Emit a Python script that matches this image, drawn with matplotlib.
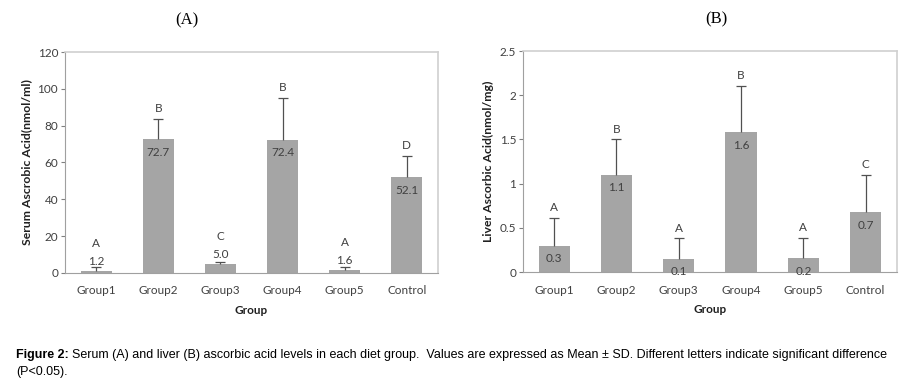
import numpy as np
import matplotlib.pyplot as plt
from matplotlib import font_manager

groups = ["Group1", "Group2", "Group3", "Group4", "Group5", "Control"]

# Serum (A)
serum_mean = [1.2, 72.7, 5.0, 72.4, 1.6, 52.1]
serum_sd = [1.9, 10.9, 1.0, 22.7, 1.8, 11.6]
serum_labels = ["1.2", "72.7", "5.0", "72.4", "1.6", "52.1"]
serum_letters = ["A", "B", "C", "B", "A", "D"]

# Liver (B)
liver_mean = [0.30, 1.10, 0.15, 1.58, 0.16, 0.68]
liver_sd = [0.31, 0.40, 0.23, 0.53, 0.225, 0.42]
liver_labels = ["0.3", "1.1", "0.1", "1.6", "0.2", "0.7"]
liver_letters = ["A", "B", "A", "B", "A", "C"]

names = {f.name for f in font_manager.fontManager.ttflist}
tick_font = ["Lato", "DejaVu Sans"]
cap_font = ["Liberation Sans Narrow", "Liberation Sans", "DejaVu Sans"]
if "Liberation Sans Narrow" not in names:
    cap_font = ["Liberation Sans", "DejaVu Sans"]

bar_col = "#a5a5a5"
frame_col = "#d0d0d0"
txt_col = "#404040"

fig = plt.figure(figsize=(9.16, 3.81), dpi=100)
axA = fig.add_axes([0.071, 0.2835, 0.407, 0.58])
axB = fig.add_axes([0.571, 0.2860, 0.408, 0.58])


def panel(ax, mean, sd, labels, letters, ymax, step, ylabel, title, small_lim):
    x = np.arange(len(groups))
    ax.bar(x, mean, width=0.5, color=bar_col, zorder=2)
    eb = ax.errorbar(x, mean, yerr=[np.zeros(len(sd)), sd], fmt="none",
                     ecolor="#505050", elinewidth=0.9, capsize=3.5, capthick=0.9, zorder=3)
    # only the upper cap is shown
    eb[1][0].set_visible(False)
    for i in range(len(groups)):
        top = mean[i] + sd[i]
        if mean[i] < small_lim:
            # value label sits above the short bar, letter above that
            ax.annotate(labels[i], (x[i], mean[i]), xytext=(0, 3), textcoords="offset points",
                        ha="center", va="bottom", fontsize=8.5, family=tick_font, color=txt_col, zorder=4)
            ax.annotate(letters[i], (x[i], mean[i]), xytext=(0, 16), textcoords="offset points",
                        ha="center", va="bottom", fontsize=8.5, family=tick_font, color=txt_col)
        else:
            ax.annotate(labels[i], (x[i], mean[i]), xytext=(0, -5.5), textcoords="offset points",
                        ha="center", va="top", fontsize=8.5, family=tick_font, color=txt_col, zorder=4)
            ax.annotate(letters[i], (x[i], top), xytext=(0, 3.5), textcoords="offset points",
                        ha="center", va="bottom", fontsize=8.5, family=tick_font, color=txt_col)
    ax.set_xlim(-0.5, len(groups) - 0.5)
    ax.set_ylim(0, ymax)
    ticks = np.arange(0, ymax + step / 2, step)
    ax.set_yticks(ticks)
    ax.set_yticklabels([f"{v:g}" for v in ticks])
    ax.set_xticks(x)
    ax.set_xticklabels(groups)
    ax.tick_params(axis="x", length=0, pad=9, labelsize=8.5, labelcolor=txt_col)
    ax.tick_params(axis="y", length=3, width=0.8, color="#808080", pad=2, labelsize=8.5, labelcolor=txt_col)
    for lab in ax.get_xticklabels() + ax.get_yticklabels():
        lab.set_family(tick_font)
    for s in ax.spines.values():
        s.set_color(frame_col)
        s.set_linewidth(1.2)
    ax.spines["left"].set_color("#a0a0a0")
    ax.spines["left"].set_linewidth(0.8)
    ax.spines["bottom"].set_color("#a0a0a0")
    ax.spines["bottom"].set_linewidth(0.8)
    ax.set_xlabel("Group", fontsize=8.5, fontweight="bold", family=tick_font, color="#202020", labelpad=6)
    ax.set_ylabel(ylabel, fontsize=8.8, fontweight="bold", family=tick_font, color="#202020", labelpad=4)
    ax.set_title(title, fontsize=12, family=["Liberation Serif", "DejaVu Serif"], pad=20)


panel(axA, serum_mean, serum_sd, serum_labels, serum_letters, 120, 20,
      "Serum Ascrobic Acid(nmol/ml)", "(A)", 10)
panel(axB, liver_mean, liver_sd, liver_labels, liver_letters, 2.5, 0.5,
      "Liver Ascorbic Acid(nmol/mg)", "(B)", -1)
axA.title.set_position((0.327, 1.0))
axB.title.set_position((0.516, 1.0))

# caption: bold "Figure 2:" followed by regular text
cap_size = 9
cap_y1 = 0.060
cap_y2 = 0.015
bold = fig.text(0.018, cap_y1, "Figure 2:", fontsize=cap_size, family=cap_font,
                fontweight="bold", color="black", va="baseline")
fig.canvas.draw()
bb = bold.get_window_extent()
x_after = (bb.x1 + 3) / fig.bbox.width
fig.text(x_after, cap_y1,
         "Serum (A) and liver (B) ascorbic acid levels in each diet group.  Values are expressed as Mean ± SD. "
         "Different letters indicate significant difference",
         fontsize=cap_size, family=cap_font, color="black", va="baseline")
fig.text(0.018, cap_y2, "(P<0.05).", fontsize=cap_size, family=cap_font, color="black", va="baseline")

fig.savefig("out.png", dpi=100)
